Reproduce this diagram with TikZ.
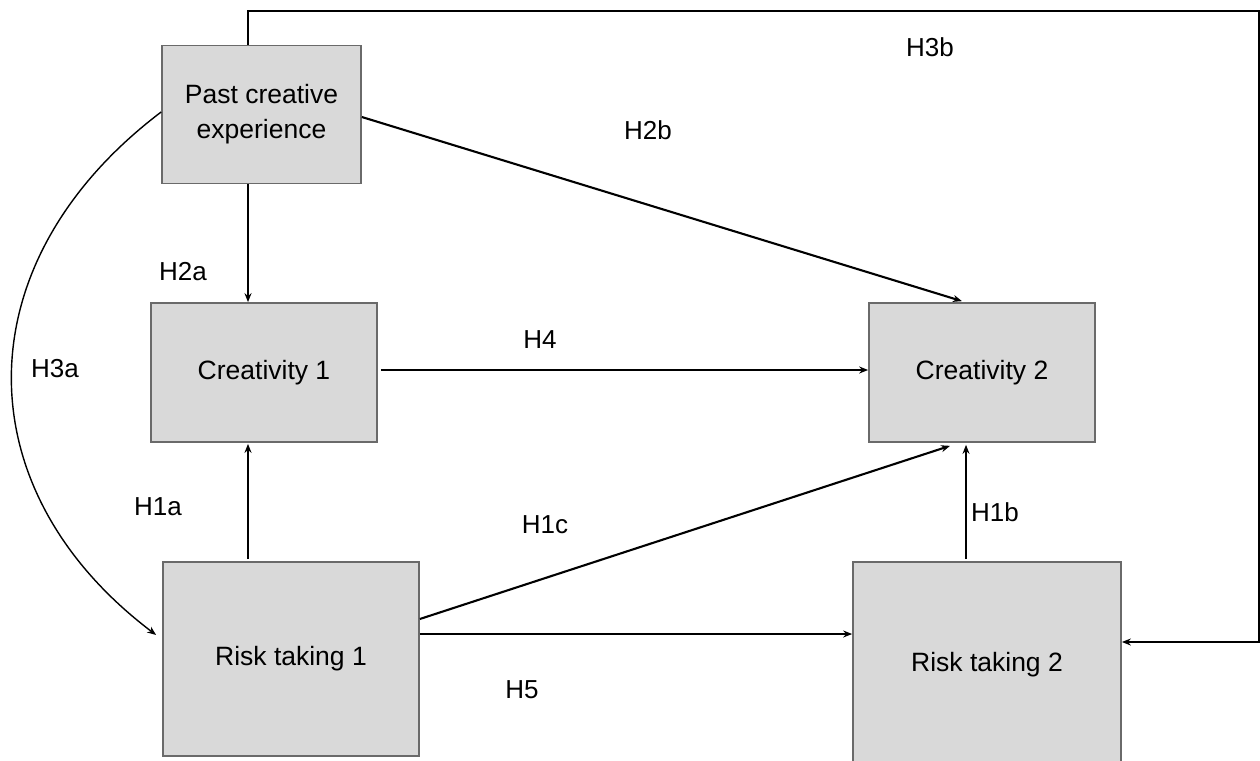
\documentclass[tikz,border=0pt]{standalone}
\usepackage{fontspec}
\setmainfont{Liberation Sans}
\usetikzlibrary{arrows.meta}
\definecolor{boxfill}{HTML}{D9D9D9}
\definecolor{boxline}{HTML}{6A6A6A}
\begin{document}
\begin{tikzpicture}[x=1pt,y=-1pt,
  box/.style={draw=boxline,line width=1.7pt,fill=boxfill,inner sep=0pt,align=center,font=\fontsize{26.5}{35}\selectfont},
  lbl/.style={font=\fontsize{26}{30}\selectfont,inner sep=0pt},
  conn/.style={line width=2.1pt,-{Stealth[length=9pt,width=7pt]}},
  thin conn/.style={line width=1.4pt,-{Stealth[length=9pt,width=7pt]}}]
\useasboundingbox[fill=white] (0,0) rectangle (1260,760);
\node[box,minimum width=199pt,minimum height=138pt] (past) at (261.5,114.5) {Past creative\\experience};
\node[box,minimum width=226pt,minimum height=139pt] (cre1) at (264,372.5) {Creativity 1};
\node[box,minimum width=226pt,minimum height=139pt] (cre2) at (982,372.5) {Creativity 2};
\node[box,minimum width=256pt,minimum height=194pt] (risk1) at (291,659) {Risk taking 1};
\node[box,minimum width=268pt,minimum height=206pt] (risk2) at (987,665) {Risk taking 2};
\coordinate (t1) at (248,11);
\coordinate (t2) at (1259,11);
\coordinate (t3) at (1259,642);
\coordinate (k1) at (-37,262);
\coordinate (k2) at (-37,489);
% H3b
\draw[conn] ([xshift=-13.5pt]past.north) -- (t1) -- (t2) -- (t3) -- (risk2.east |- t3);
% H2b
\draw[conn] ([yshift=-2.5pt]past.east) -- ([xshift=-20pt,yshift=1pt]cre2.north);
% H2a
\draw[conn] ([xshift=-13.5pt]past.south) -- ([xshift=-16pt]cre1.north);
% H3a
\draw[thin conn] ([yshift=2.5pt]past.west) .. controls (k1) and (k2) .. ([xshift=-6pt,yshift=24pt]risk1.west);
% H4
\draw[conn] ([xshift=3pt,yshift=2.5pt]cre1.east) -- ([yshift=2.5pt]cre2.west);
% H1a
\draw[conn] ([xshift=-43pt,yshift=2pt]risk1.north) -- ([xshift=-16pt,yshift=-1pt]cre1.south);
% H1c
\draw[conn] ([yshift=40pt]risk1.east) -- ([xshift=-32pt,yshift=-3pt]cre2.south);
% H5
\draw[conn] ([yshift=25pt]risk1.east) -- ([yshift=31pt]risk2.west);
% H1b
\draw[conn] ([xshift=-21pt,yshift=2pt]risk2.north) -- ([xshift=-16pt,yshift=-2pt]cre2.south);
% labels
\node[lbl] (l3b) at (930,47) {H3b};
\node[lbl] (l2b) at (648,130) {H2b};
\node[lbl] (l2a) at (183,272) {H2a};
\node[lbl] (l3a) at (55,369) {H3a};
\node[lbl] (l4) at (540,340) {H4};
\node[lbl] (l1a) at (158,507) {H1a};
\node[lbl] (l1c) at (545,525) {H1c};
\node[lbl] (l1b) at (995,512) {H1b};
\node[lbl] (l5) at (522,690) {H5};
\end{tikzpicture}
\end{document}
